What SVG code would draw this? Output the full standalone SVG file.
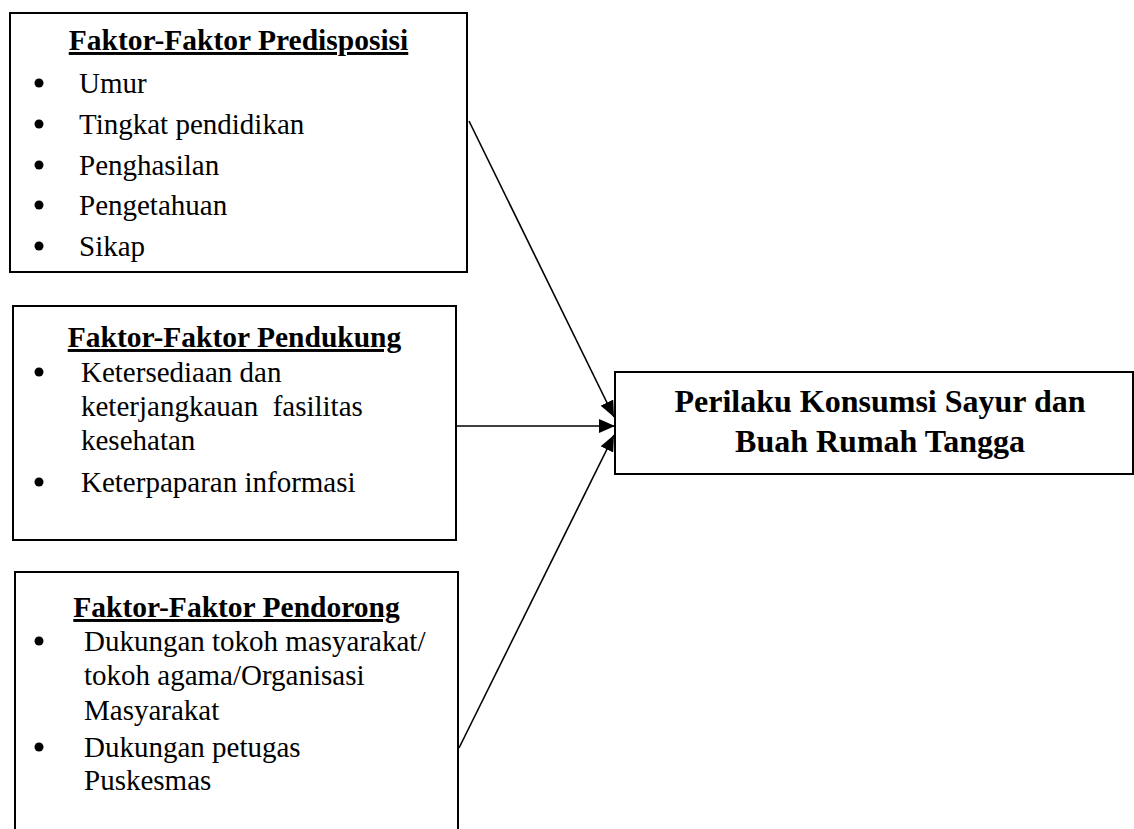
<svg xmlns="http://www.w3.org/2000/svg" width="1134" height="829" viewBox="0 0 1134 829">
<style>
.box{fill:none;stroke:#000;stroke-width:2}
.t{font-family:"Liberation Serif","Times New Roman",serif;font-size:29px;fill:#000}
.h{font-family:"Liberation Serif","Times New Roman",serif;font-size:29.5px;font-weight:bold;text-decoration:underline;text-anchor:middle;fill:#000}
.m{font-family:"Liberation Serif","Times New Roman",serif;font-size:32px;font-weight:bold;text-anchor:middle;fill:#000}
.b{fill:#000}
.c{stroke:#000;stroke-width:1.6;fill:none;marker-end:url(#ah)}
</style>
<defs>
<marker id="ah" markerUnits="userSpaceOnUse" markerWidth="17" markerHeight="14" refX="16" refY="7" orient="auto">
<path d="M0,0 L16,7 L0,14 z" fill="#000"/>
</marker>
</defs>
<rect width="1134" height="829" fill="#fff"/>
<g id="predisposisi">
<rect class="box" x="10" y="13" width="457" height="259"/>
<text class="h" x="238.5" y="50">Faktor-Faktor Predisposisi</text>
<circle class="b" cx="39" cy="83" r="4.5"/><text class="t" x="79" y="93">Umur</text>
<circle class="b" cx="39" cy="124" r="4.5"/><text class="t" x="79" y="134">Tingkat pendidikan</text>
<circle class="b" cx="39" cy="165" r="4.5"/><text class="t" x="79" y="175">Penghasilan</text>
<circle class="b" cx="39" cy="205" r="4.5"/><text class="t" x="79" y="215">Pengetahuan</text>
<circle class="b" cx="39" cy="246" r="4.5"/><text class="t" x="79" y="256">Sikap</text>
</g>
<g id="pendukung">
<rect class="box" x="13" y="306" width="443" height="234"/>
<text class="h" x="234.5" y="347">Faktor-Faktor Pendukung</text>
<circle class="b" cx="39" cy="372" r="4.5"/>
<text class="t" x="81" y="382">Ketersediaan dan</text>
<text class="t" x="81" y="416" xml:space="preserve">keterjangkauan  fasilitas</text>
<text class="t" x="81" y="450">kesehatan</text>
<circle class="b" cx="39" cy="482" r="4.5"/>
<text class="t" x="81" y="492">Keterpaparan informasi</text>
</g>
<g id="pendorong">
<path class="box" d="M15,829 V572 H458 V829"/>
<text class="h" x="236.5" y="617">Faktor-Faktor Pendorong</text>
<circle class="b" cx="39" cy="641" r="4.5"/>
<text class="t" x="84" y="651">Dukungan tokoh masyarakat/</text>
<text class="t" x="84" y="685">tokoh agama/Organisasi</text>
<text class="t" x="84" y="720">Masyarakat</text>
<circle class="b" cx="39" cy="747" r="4.5"/>
<text class="t" x="84" y="757">Dukungan petugas</text>
<text class="t" x="84" y="790">Puskesmas</text>
</g>
<g id="perilaku">
<rect class="box" x="615" y="372" width="518" height="102"/>
<text class="m" x="880" y="412">Perilaku Konsumsi Sayur dan</text>
<text class="m" x="880" y="452">Buah Rumah Tangga</text>
</g>
<g id="connectors">
<line class="c" x1="469" y1="121" x2="614" y2="417"/>
<line class="c" x1="456" y1="426" x2="615" y2="426"/>
<line class="c" x1="459" y1="748" x2="614" y2="435"/>
</g>
</svg>
